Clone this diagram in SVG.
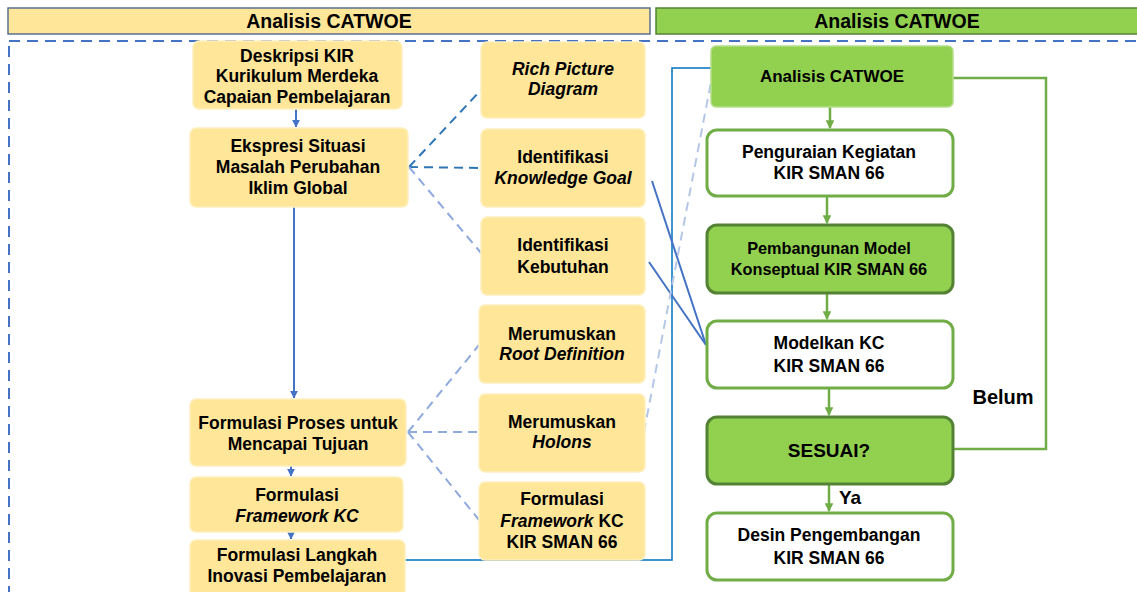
<svg xmlns="http://www.w3.org/2000/svg" width="1137" height="592" viewBox="0 0 1137 592">
<style>
text{font-family:"Liberation Sans",Arial,sans-serif;font-weight:bold;fill:#000;text-anchor:middle}
.t{font-size:17.5px}
.r{font-size:17.5px}
.i{font-style:italic}
.y{fill:#FFE699;stroke:#FFF0C0;stroke-width:1.5}
.gw{fill:#fff;stroke:#70AD47;stroke-width:3}
.gd{fill:#92D050;stroke:#548235;stroke-width:3}
.ga{stroke:#70AD47;stroke-width:2.5;fill:none}
.bl{stroke:#4472C4;stroke-width:2;fill:none}
.d1{stroke:#2E75B6;stroke-width:2;stroke-dasharray:9,6;fill:none}
.d2{stroke:#8FAADC;stroke-width:2;stroke-dasharray:9,6;fill:none}
.d3{stroke:#B4C7E7;stroke-width:2;stroke-dasharray:9,6;fill:none}
</style>
<defs>
<marker id="ab" viewBox="0 0 10 10" refX="9" refY="5" markerWidth="4" markerHeight="4" orient="auto"><path d="M0,0L10,5L0,10z" fill="#4472C4"/></marker>
<marker id="ag" viewBox="0 0 10 10" refX="9" refY="5" markerWidth="3.5" markerHeight="3.5" orient="auto"><path d="M0,0L10,5L0,10z" fill="#70AD47"/></marker>
</defs>
<rect x="0" y="0" width="1137" height="592" fill="#fff"/>
<g id="header-left"><rect x="8" y="8" width="642" height="26" fill="#FFE699" stroke="#5B7090" stroke-width="1.5"/><text x="329" y="28" font-size="19.5">Analisis CATWOE</text></g>
<g id="header-right"><rect x="656" y="8" width="484" height="26" fill="#92D050" stroke="#548235" stroke-width="1.5"/><text x="897" y="28" font-size="19.5">Analisis CATWOE</text></g>
<rect id="frame" x="9" y="41" width="1140" height="560" fill="none" stroke="#4472C4" stroke-width="2" stroke-dasharray="11,7"/>

<g id="connectors">
<line class="bl" x1="296" y1="109" x2="296" y2="127" marker-end="url(#ab)"/>
<line class="bl" x1="294" y1="207" x2="294" y2="398" marker-end="url(#ab)"/>
<line class="bl" x1="291" y1="466" x2="291" y2="476" marker-end="url(#ab)"/>
<line class="bl" x1="291" y1="532" x2="291" y2="539" marker-end="url(#ab)"/>
<polyline points="405,560 672,560 672,68 711,68" fill="none" stroke="#0070C0" stroke-width="1.5"/>
<line class="bl" x1="652" y1="181" x2="706" y2="345"/>
<line class="bl" x1="649" y1="262" x2="706" y2="345"/>
<line class="d1" x1="409" y1="167" x2="481" y2="90"/>
<line class="d1" x1="409" y1="167" x2="481" y2="168"/>
<line class="d2" x1="409" y1="167" x2="481" y2="253"/>
<line class="d2" x1="408" y1="432" x2="479" y2="345"/>
<line class="d2" x1="408" y1="432" x2="479" y2="432"/>
<line class="d2" x1="408" y1="432" x2="479" y2="520"/>
<line class="d3" x1="644" y1="432" x2="711" y2="82"/>
<line class="ga" x1="830" y1="107" x2="830" y2="128" marker-end="url(#ag)"/>
<line class="ga" x1="827" y1="196" x2="827" y2="223" marker-end="url(#ag)"/>
<line class="ga" x1="827" y1="293" x2="827" y2="319" marker-end="url(#ag)"/>
<line class="ga" x1="829" y1="388" x2="829" y2="415" marker-end="url(#ag)"/>
<line class="ga" x1="829" y1="484" x2="829" y2="511" marker-end="url(#ag)"/>
<polyline class="ga" points="953,78 1046,78 1046,449 953,449"/>
<text x="1003" y="404" font-size="20">Belum</text>
<text x="850" y="504" font-size="19">Ya</text>
</g>

<g id="n-deskripsi"><rect class="y" x="193" y="41" width="209" height="68" rx="6"/>
<text class="t" x="297" y="62">Deskripsi KIR</text><text class="t" x="297" y="82">Kurikulum Merdeka</text><text class="t" x="297" y="103">Capaian Pembelajaran</text></g>
<g id="n-ekspresi"><rect class="y" x="190" y="128" width="218" height="79" rx="6"/>
<text class="t" x="298" y="152">Ekspresi Situasi</text><text class="t" x="298" y="173">Masalah Perubahan</text><text class="t" x="298" y="194">Iklim Global</text></g>
<g id="n-proses"><rect class="y" x="190" y="399" width="216" height="67" rx="6"/>
<text class="t" x="298" y="429">Formulasi Proses untuk</text><text class="t" x="298" y="450">Mencapai Tujuan</text></g>
<g id="n-framework"><rect class="y" x="190" y="477" width="213" height="55" rx="6"/>
<text class="t" x="297" y="501">Formulasi</text><text class="t i" x="297" y="522">Framework KC</text></g>
<g id="n-langkah"><rect class="y" x="190" y="540" width="215" height="60" rx="6"/>
<text class="t" x="297" y="561">Formulasi Langkah</text><text class="t" x="297" y="582">Inovasi Pembelajaran</text></g>

<g id="n-rich"><rect class="y" x="481" y="42" width="164" height="76" rx="6"/>
<text class="t i" x="563" y="75">Rich Picture</text><text class="t i" x="563" y="95">Diagram</text></g>
<g id="n-knowledge"><rect class="y" x="481" y="129" width="164" height="78" rx="6"/>
<text class="t" x="563" y="163">Identifikasi</text><text class="t i" x="563" y="184">Knowledge Goal</text></g>
<g id="n-kebutuhan"><rect class="y" x="481" y="217" width="164" height="78" rx="6"/>
<text class="t" x="563" y="251">Identifikasi</text><text class="t" x="563" y="273">Kebutuhan</text></g>
<g id="n-root"><rect class="y" x="479" y="305" width="166" height="78" rx="6"/>
<text class="t" x="562" y="340">Merumuskan</text><text class="t i" x="562" y="360">Root Definition</text></g>
<g id="n-holons"><rect class="y" x="479" y="394" width="166" height="78" rx="6"/>
<text class="t" x="562" y="428">Merumuskan</text><text class="t i" x="562" y="448">Holons</text></g>
<g id="n-fwkir"><rect class="y" x="479" y="482" width="166" height="78" rx="6"/>
<text class="t" x="562" y="505">Formulasi</text><text class="t" x="562" y="527"><tspan font-style="italic">Framework</tspan> KC</text><text class="t" x="562" y="548">KIR SMAN 66</text></g>

<g id="n-catwoe"><rect x="711" y="46" width="242" height="61" rx="5" fill="#92D050" stroke="#B5DE8C" stroke-width="1.5"/>
<text x="832" y="82" font-size="17">Analisis CATWOE</text></g>
<g id="n-penguraian"><rect class="gw" x="707" y="130" width="246" height="66" rx="10"/>
<text class="r" x="829" y="158">Penguraian Kegiatan</text><text class="r" x="829" y="179">KIR SMAN 66</text></g>
<g id="n-pembangunan"><rect class="gd" x="707" y="225" width="246" height="68" rx="10"/>
<text x="829" y="254" font-size="16.3">Pembangunan Model</text><text x="829" y="275" font-size="16.3">Konseptual KIR SMAN 66</text></g>
<g id="n-modelkan"><rect class="gw" x="707" y="321" width="246" height="67" rx="10"/>
<text class="r" x="829" y="349">Modelkan KC</text><text class="r" x="829" y="372">KIR SMAN 66</text></g>
<g id="n-sesuai"><rect class="gd" x="707" y="417" width="246" height="67" rx="10"/>
<text x="829" y="457" font-size="19">SESUAI?</text></g>
<g id="n-desin"><rect class="gw" x="707" y="513" width="246" height="67" rx="10"/>
<text class="r" x="829" y="541">Desin Pengembangan</text><text class="r" x="829" y="564">KIR SMAN 66</text></g>
</svg>
